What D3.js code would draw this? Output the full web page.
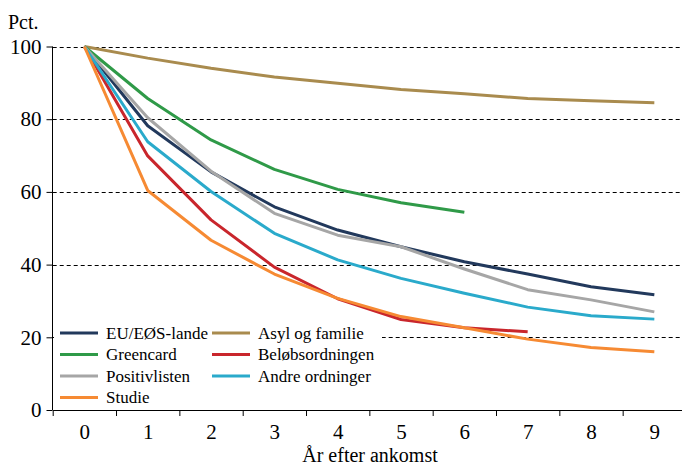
<!DOCTYPE html>
<html><head><meta charset="utf-8">
<script src="https://cdn.jsdelivr.net/npm/d3@7"></script>
<style>
html,body{margin:0;padding:0;background:#fff;}
svg{display:block;}
svg text{font-family:"Liberation Serif","Times New Roman",Times,Tinos,"DejaVu Serif","Noto Serif",serif !important;fill:#000;}
</style>
</head><body>
<svg id="chart" width="682" height="465"></svg>
<script>
const years = [0,1,2,3,4,5,6,7,8,9];
const yTicks = [0,20,40,60,80,100];
const euEos      = [100, 78.2, 65.5, 55.9, 49.5, 44.9, 40.8, 37.4, 33.9, 31.7];
const asyl       = [100, 96.8, 94.0, 91.6, 89.9, 88.2, 87.0, 85.7, 85.1, 84.5];
const greencard  = [100, 85.7, 74.3, 66.2, 60.7, 57.0, 54.4];
const beloeb     = [100, 69.9, 52.3, 39.3, 30.6, 24.9, 22.6, 21.5];
const positiv    = [100, 80.4, 65.7, 54.1, 48.1, 44.9, 38.8, 33.1, 30.3, 27.0];
const andre      = [100, 73.8, 60.1, 48.6, 41.3, 36.2, 32.1, 28.3, 25.9, 25.0];
const studie     = [100, 60.4, 46.7, 37.4, 30.7, 25.7, 22.6, 19.5, 17.2, 16.0];

const seriesNames = ["EU/EØS-lande","Asyl og familie","Greencard","Beløbsordningen","Positivlisten","Andre ordninger","Studie"];
const seriesVals = [euEos, asyl, greencard, beloeb, positiv, andre, studie];
const colors = ["#22395c","#a98b4e","#2f9a48","#c9262c","#a6a6a6","#2aaacb","#f68a33"];

const svg = d3.select("#chart");
const x = d3.scaleLinear().domain([-0.5, 9.5]).range([52.7, 686]);
const y = d3.scaleLinear().domain([0, 100]).range([410, 46.5]);

// gridlines
svg.append("g").selectAll("line").data(yTicks.filter(d=>d>0)).join("line")
  .attr("x1", 52.7).attr("x2", 682).attr("y1", d=>Math.round(y(d))+0.5).attr("y2", d=>Math.round(y(d))+0.5)
  .attr("stroke", "#000").attr("stroke-width", 1).attr("stroke-dasharray", "4,3");

// legend background
svg.append("rect").attr("x", 54).attr("y", 322).attr("width", 328).attr("height", 86).attr("fill", "#fff");

// y axis
const yAxis = d3.axisLeft(y).tickValues(yTicks).tickSize(6).tickPadding(5);
const gy = svg.append("g").attr("transform", "translate(52.5,0)").call(yAxis);
gy.attr("font-family", null).attr("font-size", null);
gy.select(".domain").attr("d", `M0,${y(100)}V${y(0)}`).attr("stroke","#000");
gy.selectAll("text").style("font-size", "21px");
gy.selectAll("line").attr("stroke","#000");

// x axis: labels
const gxl = svg.append("g").attr("transform", `translate(0,${y(0)})`)
  .call(d3.axisBottom(x).tickValues(years).tickSize(0).tickPadding(14));
gxl.attr("font-family", null).attr("font-size", null);
gxl.select(".domain").attr("stroke","#000");
gxl.selectAll("text").style("font-size", "21px");
// x axis tick marks at band boundaries
const gxt = svg.append("g").attr("transform", `translate(0,${y(0)})`)
  .call(d3.axisBottom(x).tickValues(d3.range(-0.5, 9, 1)).tickSize(6).tickFormat(""));
gxt.select(".domain").remove();
gxt.selectAll("line").attr("stroke","#000");

// lines
const line = d3.line().x((d,i)=>x(years[i])).y(d=>y(d));
svg.append("g").selectAll("path").data(seriesVals).join("path")
  .attr("d", d=>line(d)).attr("fill","none")
  .attr("stroke", (d,i)=>colors[i]).attr("stroke-width", 3).attr("stroke-linejoin","round");

// legend
const legendOrder = [0,2,4,6,1,3,5];
const legendPos = [[60,333],[60,354.5],[60,376],[60,397.5],[212,333],[212,354.5],[212,376]];
const lg = svg.append("g");
legendOrder.forEach((si, k) => {
  const [lx, ly] = legendPos[k];
  lg.append("line").attr("x1", lx).attr("x2", lx+38).attr("y1", ly).attr("y2", ly)
    .attr("stroke", colors[si]).attr("stroke-width", 3);
  lg.append("text").attr("x", lx+46).attr("y", ly).attr("dy", "0.33em")
    .style("font-size", "17px").text(seriesNames[si]);
});

// titles
svg.append("text").attr("x", 8).attr("y", 29).style("font-size", "20px").text("Pct.");
svg.append("text").attr("x", 370).attr("y", 462).attr("text-anchor","middle")
  .style("font-size", "20px").text("År efter ankomst");
</script>
</body></html>
